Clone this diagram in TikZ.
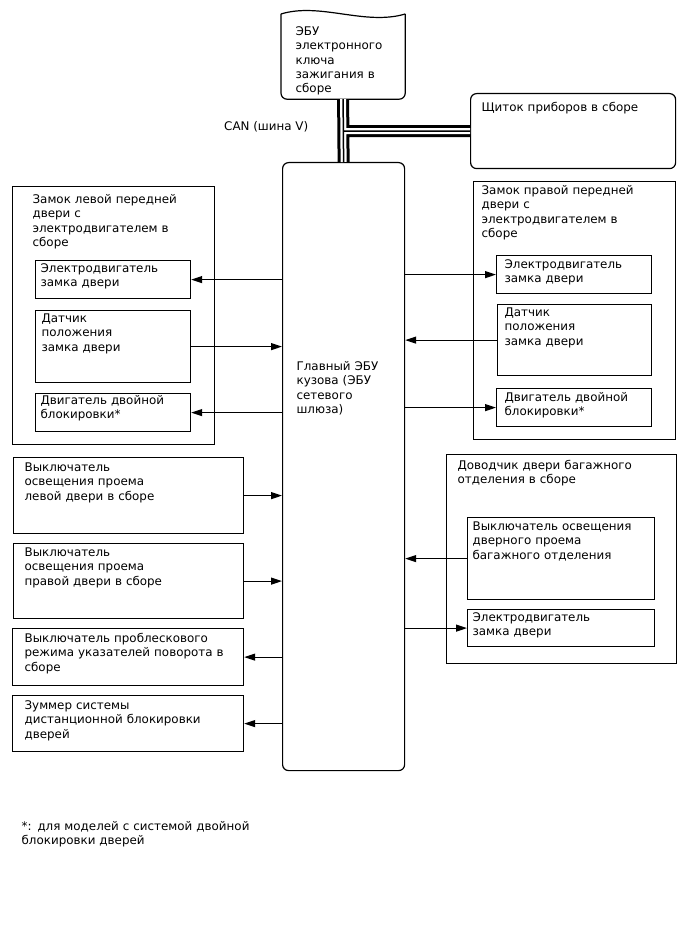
\documentclass[tikz,border=0pt]{standalone}
\usepackage{fontspec}
\setmainfont{DejaVu Sans}
\usetikzlibrary{arrows.meta, positioning}

\begin{document}
\begin{tikzpicture}[
  x=1pt, y=-1pt,
  every node/.style={font=\fontsize{11.9}{14.3}\selectfont},
  blk/.style={draw, line width=1.2pt, anchor=north west, align=left, inner ysep=0pt},
  rblk/.style={blk, rounded corners=6pt},
  arr/.style={-{Triangle[length=11pt, width=7pt]}, line width=1.2pt},
  can/.style={line width=12pt, postaction={draw, white, line width=6pt}, postaction={draw, black, line width=1.5pt}}
]
\useasboundingbox (0,0) rectangle (688,949);

% CAN bus members
\node[blk, draw=none, inner xsep=14pt, text width=95pt, text height=21pt, text depth=63pt] (keyecu) at (281,14) {ЭБУ\\электронного\\ключа\\зажигания в\\сборе};
\node[rblk, inner xsep=11pt, text width=183pt, text height=18pt, text depth=57pt] (cluster) at (470,93) {Щиток приборов в сборе};
\node[rblk, inner xsep=14pt, text width=94pt, text height=208pt, text depth=400pt] (main) at (282,162) {Главный ЭБУ\\кузова (ЭБУ\\сетевого\\шлюза)};
\node[anchor=west, inner sep=0pt] (canlbl) at (224,127) {CAN (шина V)};

% key ECU outline (wavy top)
\draw[line width=1.2pt, rounded corners=6pt] (keyecu.north west) -- (keyecu.south west) -- (keyecu.south east) -- (keyecu.north east);
\draw[line width=1.2pt] (keyecu.north east) .. controls (365,26) and (320,2) .. (keyecu.north west);

% Left front door lock
\node[blk, inner xsep=20pt, text width=162pt, text height=17pt, text depth=241pt] (llock) at (12,186) {Замок левой передней\\двери с\\электродвигателем в\\сборе};
\node[blk, inner xsep=5pt, text width=145pt, text height=12pt, text depth=26pt] (lmotor) at (35,260) {Электродвигатель\\замка двери};
\node[blk, inner xsep=6pt, text width=143pt, text height=12pt, text depth=60pt] (lsensor) at (35,310) {Датчик\\положения\\замка двери};
\node[blk, inner xsep=5pt, text width=145pt, text height=11pt, text depth=27pt] (ldlock) at (35,393) {Двигатель двойной\\блокировки*};

% Right front door lock
\node[blk, inner xsep=8pt, text width=186pt, text height=13pt, text depth=245pt] (rlock) at (473,181) {Замок правой передней\\двери с\\электродвигателем в\\сборе};
\node[blk, inner xsep=8pt, text width=139pt, text height=13pt, text depth=25pt] (rmotor) at (496,255) {Электродвигатель\\замка двери};
\node[blk, inner xsep=7pt, text width=140pt, text height=12pt, text depth=59pt] (rsensor) at (497,304) {Датчик\\положения\\замка двери};
\node[blk, inner xsep=8pt, text width=139pt, text height=13pt, text depth=25pt] (rdlock) at (496,388) {Двигатель двойной\\блокировки*};

% Back door closer
\node[blk, inner xsep=11pt, text width=208pt, text height=15pt, text depth=194pt] (trunk) at (446,454) {Доводчик двери багажного\\отделения в сборе};
\node[blk, inner xsep=5pt, text width=177pt, text height=13pt, text depth=69pt] (tswitch) at (467,517) {Выключатель освещения\\дверного проема\\багажного отделения};
\node[blk, inner xsep=5pt, text width=177pt, text height=12pt, text depth=25pt] (tmotor) at (467,609) {Электродвигатель\\замка двери};

% Switches and buzzer
\node[blk, inner xsep=11pt, text width=208pt, text height=14pt, text depth=62pt] (lswitch) at (13,457) {Выключатель\\освещения проема\\левой двери в сборе};
\node[blk, inner xsep=11pt, text width=208pt, text height=13pt, text depth=62pt] (rswitch) at (13,543) {Выключатель\\освещения проема\\правой двери в сборе};
\node[blk, inner xsep=12pt, text width=207pt, text height=14pt, text depth=43pt] (hazard) at (12,628) {Выключатель проблескового\\режима указателей поворота в\\сборе};
\node[blk, inner xsep=12pt, text width=207pt, text height=14pt, text depth=42pt] (buzzer) at (12,695) {Зуммер системы\\дистанционной блокировки\\дверей};

% Footnote
\node[blk, draw=none, inner xsep=0pt, text width=260pt, text height=14pt, text depth=20pt] (note) at (21,816) {*: для моделей с системой двойной\\блокировки дверей};

% CAN bus
\draw[can] (keyecu.south) -- (main.north) (keyecu.south |- cluster.west) -- (cluster.west);

% Arrows
\draw[arr] (main.west |- lmotor) -- (lmotor.east);
\draw[arr] (lsensor.east) -- (main.west |- lsensor);
\draw[arr] (main.west |- ldlock) -- (ldlock.east);
\draw[arr] (lswitch.east) -- (main.west |- lswitch);
\draw[arr] (rswitch.east) -- (main.west |- rswitch);
\draw[arr] (main.west |- hazard) -- (hazard.east);
\draw[arr] (main.west |- buzzer) -- (buzzer.east);
\draw[arr] (main.east |- rmotor) -- (rmotor.west);
\draw[arr] (rsensor.west) -- (main.east |- rsensor);
\draw[arr] (main.east |- rdlock) -- (rdlock.west);
\draw[arr] (tswitch.west) -- (main.east |- tswitch);
\draw[arr] (main.east |- tmotor) -- (tmotor.west);

\end{tikzpicture}
\end{document}
